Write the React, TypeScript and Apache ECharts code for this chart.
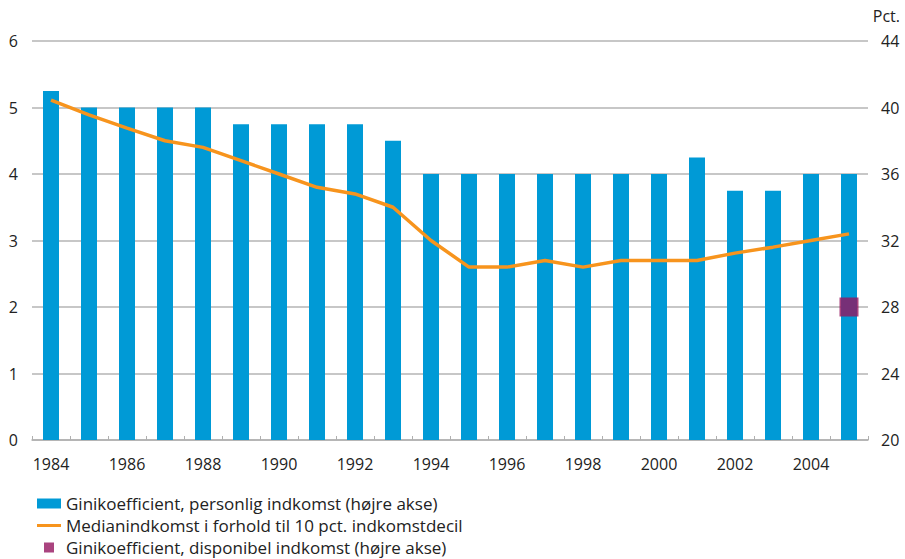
import React, { useEffect, useRef } from "react";
import * as echarts from "echarts";

const years = ["1984","1985","1986","1987","1988","1989","1990","1991","1992","1993","1994","1995","1996","1997","1998","1999","2000","2001","2002","2003","2004","2005"];
const giniPersonal = [41,40,40,40,40,39,39,39,39,38,36,36,36,36,36,36,36,37,35,35,36,36];
const medianRatio = [5.11,4.89,4.69,4.5,4.4,4.2,4.0,3.8,3.7,3.5,3.0,2.6,2.6,2.7,2.6,2.7,2.7,2.7,2.81,2.9,3.0,3.1];
const giniDisposable: (number | string)[] = ["-","-","-","-","-","-","-","-","-","-","-","-","-","-","-","-","-","-","-","-","-",28];
const seriesNames = [
  "Ginikoefficient, personlig indkomst (højre akse)",
  "Medianindkomst i forhold til 10 pct. indkomstdecil",
  "Ginikoefficient, disponibel indkomst (højre akse)",
];

const FONT = "'Open Sans', 'Noto Sans', sans-serif";
const TXT = "#222";

export default function App() {
  const ref = useRef<HTMLDivElement>(null);
  useEffect(() => {
    if (!ref.current) return;
    const chart = echarts.init(ref.current, undefined, { renderer: "svg" });
    chart.setOption({
      animation: false,
      textStyle: { fontFamily: FONT, color: TXT },
      grid: { left: 32, right: 37, top: 41, bottom: 119, containLabel: false },
      legend: {
        orient: "vertical",
        left: 37,
        top: 495,
        padding: 0,
        itemGap: 5,
        itemWidth: 24,
        itemHeight: 10,
        textStyle: { fontFamily: FONT, fontSize: 17, lineHeight: 17, color: TXT },
        data: [
          { name: seriesNames[0], icon: "rect" },
          { name: seriesNames[1], icon: "path://M0,0h24v3h-24z" },
          { name: seriesNames[2], icon: "path://M0,0h10v10h-10z" },
        ],
      },
      graphic: [
        { type: "text", right: 5, top: 8, style: { text: "Pct.", fontFamily: FONT, fontSize: 16, fill: TXT } },
      ],
      xAxis: {
        type: "category",
        data: years,
        boundaryGap: true,
        axisLine: { lineStyle: { color: "#b0b0b0", width: 1.5 } },
        axisTick: { show: true, inside: true, length: 4, interval: 0, lineStyle: { color: "#b0b0b0" } },
        axisLabel: { interval: 1, margin: 16, fontSize: 16, color: TXT, fontFamily: FONT },
      },
      yAxis: [
        {
          type: "value",
          min: 0,
          max: 6,
          interval: 1,
          axisLine: { show: false },
          axisTick: { show: false },
          axisLabel: { margin: 14, fontSize: 16, color: TXT, fontFamily: FONT },
          splitLine: { lineStyle: { color: "#b4b4b4", width: 1.5 } },
        },
        {
          type: "value",
          min: 20,
          max: 44,
          interval: 4,
          position: "right",
          axisLine: { show: false },
          axisTick: { show: false },
          axisLabel: { margin: 13, fontSize: 16, color: TXT, fontFamily: FONT },
          splitLine: { show: false },
        },
      ],
      series: [
        {
          name: seriesNames[0],
          type: "bar",
          yAxisIndex: 1,
          data: giniPersonal,
          barWidth: 16,
          clip: true,
          itemStyle: { color: "#009ad6" },
        },
        {
          name: seriesNames[1],
          type: "line",
          yAxisIndex: 0,
          data: medianRatio,
          symbol: "none",
          lineStyle: { color: "#f7941d", width: 3.5 },
          itemStyle: { color: "#f7941d" },
        },
        {
          name: seriesNames[2],
          type: "scatter",
          yAxisIndex: 1,
          data: giniDisposable,
          symbol: "rect",
          symbolSize: 19,
          itemStyle: { color: "#95155f" },
        },
      ],
    });
    return () => chart.dispose();
  }, []);
  return <div ref={ref} style={{ position: "absolute", left: 0, top: 0, width: 905, height: 559 }} />;
}
